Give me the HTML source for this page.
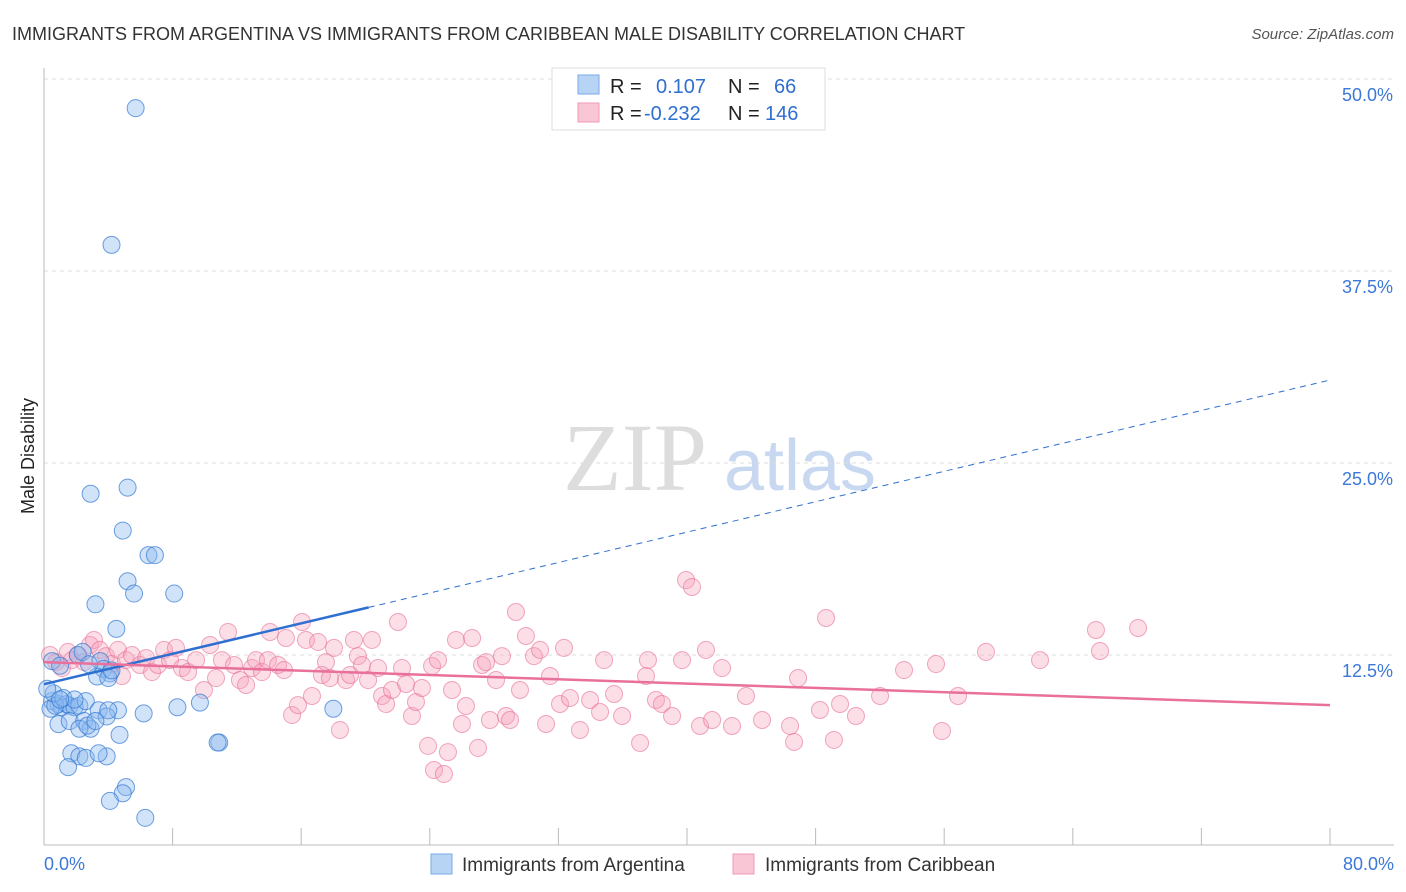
<!DOCTYPE html>
<html><head><meta charset="utf-8"><style>
body{margin:0;background:#fff;font-family:"Liberation Sans",sans-serif;}
svg{display:block}
</style></head><body>
<svg id="chart" width="1406" height="892">
<text x="12" y="40" font-size="18" fill="#333">IMMIGRANTS FROM ARGENTINA VS IMMIGRANTS FROM CARIBBEAN MALE DISABILITY CORRELATION CHART</text>
<text x="1394" y="39" font-size="15" fill="#555" font-style="italic" text-anchor="end">Source: ZipAtlas.com</text>
<text x="34" y="456" font-size="18" fill="#222" text-anchor="middle" transform="rotate(-90 34 456)">Male Disability</text>
<g><text x="635" y="490" font-size="96" fill="#ddd" font-family="Liberation Serif,serif" text-anchor="middle">ZIP</text><text x="800" y="490" font-size="72" fill="#c8d8f0" text-anchor="middle">atlas</text></g>
<g id="grid"></g><g id="axes"></g><g id="pts"></g><g id="lines"></g>
<g>
<rect x="552" y="68" width="273" height="62" fill="#fff" stroke="#ddd"/>
<rect x="578" y="75" width="21" height="19" fill="#b8d4f5" stroke="#7aaae8"/>
<rect x="578" y="103" width="21" height="19" fill="#f9c6d5" stroke="#f09ab5"/>
<text x="610" y="93" font-size="20" fill="#222">R =</text><text x="656" y="93" font-size="20" fill="#2f6fd0">0.107</text>
<text x="728" y="93" font-size="20" fill="#222">N =</text><text x="774" y="93" font-size="20" fill="#2f6fd0">66</text>
<text x="610" y="120" font-size="20" fill="#222">R =</text><text x="644" y="120" font-size="20" fill="#2f6fd0">-0.232</text>
<text x="728" y="120" font-size="20" fill="#222">N =</text><text x="765" y="120" font-size="20" fill="#2f6fd0">146</text>
</g>
<g>
<rect x="431" y="854" width="21" height="20" fill="#b8d4f5" stroke="#7aaae8"/>
<text x="462" y="871" font-size="19" fill="#333">Immigrants from Argentina</text>
<rect x="733" y="854" width="21" height="20" fill="#f9c6d5" stroke="#f09ab5"/>
<text x="765" y="871" font-size="19" fill="#333">Immigrants from Caribbean</text>
</g>
<text x="44" y="870" font-size="18" fill="#3b78d8">0.0%</text>
<text x="1394" y="870" font-size="18" fill="#3b78d8" text-anchor="end">80.0%</text>
</svg>
<script>
const yTicks=[12.5,25,37.5,50];
const yTickLabels=["12.5%","25.0%","37.5%","50.0%"];
const xTicks=[0,8,16,24,32,40,48,56,64,72,80];
const blueX=[5.7,4.2,2.9,5.2,4.9,6.5,6.9,5.2,5.6,8.1,3.2,4.5,0.5,1.0,2.1,2.4,3.5,3.7,4.1,3.3,4.0,0.5,0.9,1.1,1.4,1.6,0.4,0.7,1.9,2.2,2.6,3.4,4.6,6.2,8.3,9.7,18.0,0.9,1.6,2.5,2.9,2.2,3.9,4.7,1.7,2.2,2.6,3.9,3.4,1.5,5.1,4.9,4.1,6.3,10.9,10.8,2.7,3.2,0.6,1.2,4.0,4.2,2.8,1.9,1.0,0.2];
const blueY=[48.1,39.2,23.0,23.4,20.6,19.0,19.0,17.3,16.5,16.5,15.8,14.2,12.1,11.8,12.5,12.7,12.1,11.6,11.3,11.1,11.0,9.5,9.3,9.1,9.3,9.2,9.0,9.2,9.1,9.2,9.5,8.9,8.9,8.7,9.1,9.4,9.0,8.0,8.2,8.2,7.7,7.7,8.5,7.3,6.1,5.9,5.8,5.9,6.1,5.2,3.9,3.5,3.0,1.9,6.8,6.8,7.9,8.2,10.0,9.7,8.9,11.5,11.9,9.6,9.6,10.3];
const pinkPx=[[50,655],[56,662],[62,668],[68,652],[72,660],[78,655],[84,662],[90,645],[94,640],[100,650],[106,656],[112,664],[118,650],[122,676],[126,660],[132,655],[140,665],[146,658],[152,672],[158,665],[164,650],[170,660],[176,648],[182,668],[188,672],[196,660],[204,690],[210,645],[216,678],[222,660],[228,632],[234,665],[240,680],[246,685],[252,668],[256,660],[262,672],[268,660],[270,632],[278,665],[284,670],[286,638],[292,715],[298,705],[302,622],[306,640],[312,696],[318,642],[322,675],[326,662],[330,678],[334,648],[340,730],[346,680],[350,675],[354,640],[358,656],[362,665],[368,680],[372,640],[378,668],[382,696],[386,704],[392,690],[398,622],[402,668],[406,684],[412,716],[416,702],[422,688],[428,746],[432,666],[434,770],[438,660],[444,774],[448,752],[452,690],[456,640],[462,724],[466,706],[472,638],[478,748],[482,665],[486,662],[490,720],[496,680],[502,656],[506,716],[510,720],[516,612],[520,690],[526,636],[534,656],[540,650],[546,724],[550,676],[560,704],[564,648],[570,698],[580,730],[590,700],[600,712],[604,660],[614,694],[622,716],[640,743],[646,676],[648,660],[656,700],[662,704],[672,716],[682,660],[686,580],[692,587],[700,726],[706,650],[712,720],[722,668],[732,726],[746,696],[762,720],[790,726],[794,742],[798,678],[820,710],[826,618],[834,740],[840,704],[856,716],[880,696],[904,670],[936,664],[942,731],[958,696],[986,652],[1040,660],[1096,630],[1100,651],[1138,628]];
const pinkX=pinkPx.map(p=>+((p[0]-44)/16.075).toFixed(2));
const pinkY=pinkPx.map(p=>+((847-p[1])/15.36).toFixed(2));
const blueTrend=[10.6,30.4], blueSolidEnd=20.2;
const pinkTrend=[12.04,9.24];
const X=v=>44+v*1286/80, Y=v=>847-v*768/50;
const NS="http://www.w3.org/2000/svg";
function mk(p,t,a){const e=document.createElementNS(NS,t);for(const k in a)e.setAttribute(k,a[k]);p.appendChild(e);return e;}
const grid=document.getElementById('grid'),axes=document.getElementById('axes'),pts=document.getElementById('pts'),lines=document.getElementById('lines');
yTicks.forEach((t,i)=>{
 const g=mk(grid,'line',{x1:44,x2:1394,y1:Y(t),y2:Y(t),stroke:'#ddd','stroke-dasharray':'4,4'});
 
 
 const l=mk(grid,'text',{x:1393,y:Y(t)+22,'font-size':18,fill:'#3b78d8','text-anchor':'end'});
 l.textContent=yTickLabels[i];
 
 
});
const ax=mk(axes,'line',{x1:44,x2:44,y1:68,y2:845,stroke:'#bbb'});


const bx=mk(axes,'line',{x1:44,x2:1394,y1:845,y2:845,stroke:'#bbb'});


xTicks.forEach(t=>{const k=mk(axes,'line',{x1:X(t),x2:X(t),y1:828,y2:845,stroke:'#bbb'});
 
 });
pinkX.forEach((x,i)=>{const c=mk(pts,'circle',{cx:X(x),cy:Y(pinkY[i]),r:8.5,fill:'rgba(245,160,185,0.35)',stroke:'rgba(232,110,150,0.6)','stroke-width':1});
 
 });
blueX.forEach((x,i)=>{const c=mk(pts,'circle',{cx:X(x),cy:Y(blueY[i]),r:8.5,fill:'rgba(140,185,240,0.4)',stroke:'rgba(50,120,210,0.7)','stroke-width':1});
 
 });
const by=x=>blueTrend[0]+(blueTrend[1]-blueTrend[0])*x/80;
const b1=mk(lines,'line',{x1:X(0),y1:Y(by(0)),x2:X(blueSolidEnd),y2:Y(by(blueSolidEnd)),stroke:'#2f6fd0','stroke-width':2.5});


const b2=mk(lines,'line',{x1:X(blueSolidEnd),y1:Y(by(blueSolidEnd)),x2:X(80),y2:Y(by(80)),stroke:'#2f6fd0','stroke-width':1,'stroke-dasharray':'6,5'});


const p1=mk(lines,'line',{x1:X(0),y1:Y(pinkTrend[0]),x2:X(80),y2:Y(pinkTrend[1]),stroke:'#e8709a','stroke-width':2.5});


</script>
</body></html>
